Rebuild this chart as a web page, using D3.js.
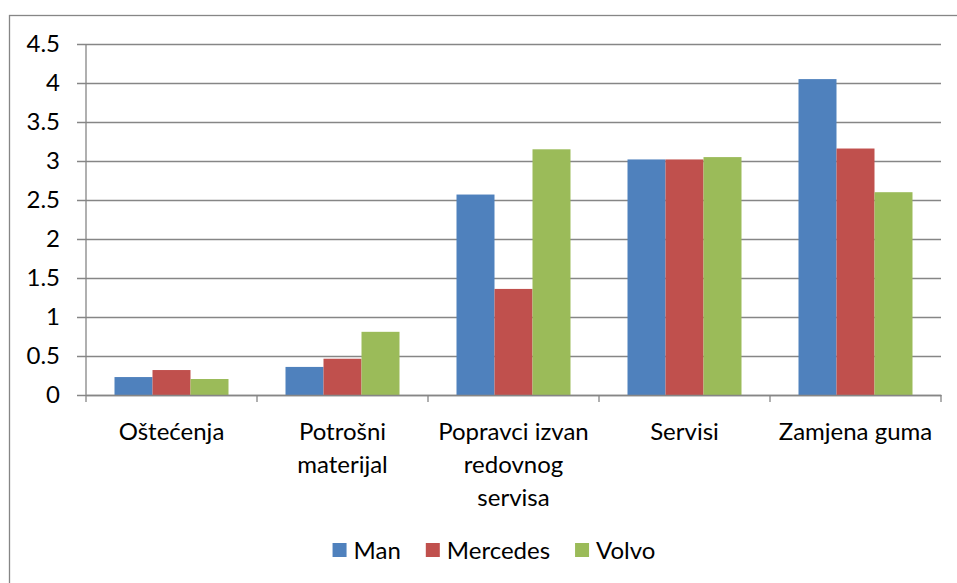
<!DOCTYPE html>
<html>
<head>
<meta charset="utf-8">
<script src="https://cdn.jsdelivr.net/npm/d3@7"></script>
<style>
  body { margin: 0; background: #fff; }
  text { font-family: Lato, "Open Sans", sans-serif; fill: #000; }
</style>
</head>
<body>
<div id="chart"></div>
<script>
// data
var categories = ["Oštećenja", "Potrošni materijal", "Popravci izvan redovnog servisa", "Servisi", "Zamjena guma"];
var series = ["Man", "Mercedes", "Volvo"];
var man      = [0.23, 0.36, 2.57, 3.02, 4.05];
var mercedes = [0.32, 0.465, 1.36, 3.02, 3.16];
var volvo    = [0.205, 0.81, 3.15, 3.05, 2.60];
var yTicks = [0, 0.5, 1, 1.5, 2, 2.5, 3, 3.5, 4, 4.5];
var colors = ["#4F81BD", "#C0504D", "#9BBB59"];

var values = [man, mercedes, volvo];

var W = 957, H = 583;
var margin = {top: 44, right: 16, bottom: 188, left: 86},
    width = W - margin.left - margin.right,
    height = 395 - margin.top;

var svg = d3.select("#chart")
  .append("svg")
    .attr("width", W)
    .attr("height", H);

// outer frame (runs off the right and bottom)
svg.append("rect")
  .attr("x", 9.5).attr("y", 15.5)
  .attr("width", 960).attr("height", 600)
  .attr("fill", "none")
  .attr("stroke", "#868686")
  .attr("stroke-width", 1.3);

var g = svg.append("g")
  .attr("transform", "translate(" + margin.left + "," + margin.top + ")");

var x = d3.scaleBand()
  .domain(categories)
  .range([0, width]);

var xs = d3.scaleBand()
  .domain(series)
  .range([0, x.bandwidth()])
  .paddingInner(0)
  .paddingOuter(0.75);

var y = d3.scaleLinear()
  .domain([0, 4.5])
  .range([height, 0]);

// gridlines + y ticks
var yAxis = d3.axisLeft(y)
  .tickValues(yTicks)
  .tickSize(-width)
  .tickPadding(26)
  .tickFormat(function (d) { return d; });

var gy = g.append("g")
  .attr("class", "y axis")
  .call(yAxis);
gy.select(".domain").remove();
gy.selectAll(".tick line")
  .attr("x1", -9)
  .attr("stroke", "#868686")
  .attr("stroke-width", 1.3);
gy.selectAll(".tick text")
  .style("font-size", "24px")
  .style("font-family", "Lato, sans-serif")
  .attr("fill", "#000");

// y axis line
g.append("line")
  .attr("x1", 0).attr("x2", 0)
  .attr("y1", 0).attr("y2", height)
  .attr("stroke", "#868686")
  .attr("stroke-width", 1.3);

// bars
var groups = g.selectAll(".grp")
  .data(categories)
  .enter()
  .append("g")
  .attr("class", "grp")
  .attr("transform", function (d) { return "translate(" + x(d) + ",0)"; });

groups.selectAll("rect")
  .data(function (d, i) {
    return series.map(function (s, j) { return {s: s, v: values[j][i], c: colors[j]}; });
  })
  .enter()
  .append("rect")
  .attr("x", function (d) { return xs(d.s); })
  .attr("width", xs.bandwidth())
  .attr("y", function (d) { return y(d.v); })
  .attr("height", function (d) { return height - y(d.v); })
  .attr("fill", function (d) { return d.c; });

// x axis
var xAxis = d3.axisBottom(x)
  .tickSize(0)
  .tickPadding(0)
  .tickFormat("");

var gx = g.append("g")
  .attr("transform", "translate(0," + height + ")")
  .call(xAxis);
gx.select(".domain").attr("stroke", "#868686").attr("stroke-width", 1.3);

// category separators
var seps = d3.range(categories.length + 1).map(function (i) { return i * x.step(); });
gx.selectAll(".sep")
  .data(seps)
  .enter()
  .append("line")
  .attr("x1", function (d) { return d; })
  .attr("x2", function (d) { return d; })
  .attr("y1", 0).attr("y2", 7)
  .attr("stroke", "#868686")
  .attr("stroke-width", 1.3);

// category labels, wrapped
var labels = gx.selectAll(".lbl")
  .data(categories)
  .enter()
  .append("text")
  .attr("class", "lbl")
  .attr("x", function (d) { return x(d) + x.bandwidth() / 2; })
  .attr("y", 45)
  .attr("text-anchor", "middle")
  .style("font-size", "24px")
  .text(function (d) { return d; })
  .each(function (d) {
    var t = d3.select(this), words = d.split(" "), line = [];
    t.text(null);
    var ts = t.append("tspan").attr("x", t.attr("x")).attr("dy", 0);
    words.forEach(function (w) {
      line.push(w);
      ts.text(line.join(" "));
      if (ts.node().getComputedTextLength() > 160 && line.length > 1) {
        line.pop();
        ts.text(line.join(" "));
        line = [w];
        ts = t.append("tspan").attr("x", t.attr("x")).attr("dy", 33).text(w);
      }
    });
  });

// legend
var legend = svg.append("g");
var lx = 0;
series.forEach(function (s, i) {
  var it = legend.append("g").attr("transform", "translate(" + lx + ",0)");
  it.append("rect")
    .attr("x", 0).attr("y", 543)
    .attr("width", 14).attr("height", 14)
    .attr("fill", colors[i]);
  var tx = it.append("text")
    .attr("x", 21).attr("y", 559)
    .style("font-size", "24px")
    .text(s);
  lx += 21 + tx.node().getComputedTextLength() + 25;
});
var lw = lx - 25;
legend.attr("transform", "translate(" + (494 - lw / 2) + ",0)");
</script>
</body>
</html>
